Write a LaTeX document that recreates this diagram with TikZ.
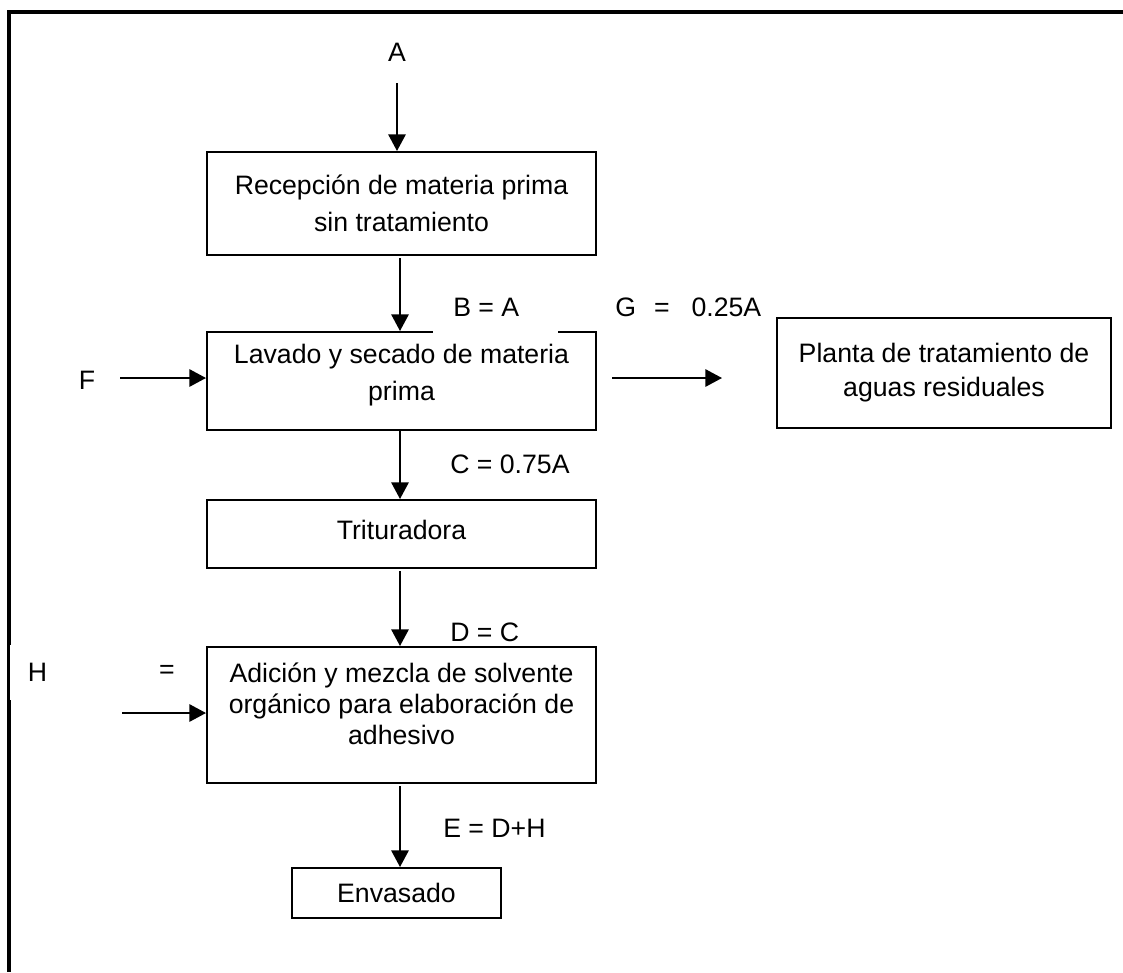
\documentclass[tikz,border=0pt]{standalone}
\usepackage{fontspec}
\setmainfont{Liberation Sans}
\usetikzlibrary{arrows.meta}
\begin{document}
\begin{tikzpicture}[x=0.75pt,y=-0.75pt,
  every node/.style={font=\fontsize{20}{24}\selectfont},
  stepbox/.style={draw,line width=1.5pt,inner sep=0pt},
  boxtext/.style={align=center,inner sep=0pt},
  lbl/.style={inner sep=0pt},
  flow/.style={line width=1.5pt,-{Triangle[length=12.5pt,width=13pt]}},
  frame/.style={line width=3pt}
]
\useasboundingbox (0,0) rectangle (1123,972);

% page frame: top and left rules
\draw[frame] (7,12) -- (1123,12);
\draw[frame] (9,10.5) -- (9,972);

% process boxes
\node[stepbox,minimum width=291.75pt,minimum height=77.25pt] (b1) at (401.5,203.5) {};
\node[stepbox,minimum width=291.75pt,minimum height=73.5pt] (b2) at (401.5,381) {};
\node[stepbox,minimum width=250.5pt,minimum height=82.5pt] (b3) at (944,373) {};
\node[stepbox,minimum width=291.75pt,minimum height=51pt] (b4) at (401.5,534) {};
\node[stepbox,minimum width=291.75pt,minimum height=102pt] (b5) at (401.5,715) {};
\node[stepbox,minimum width=156.75pt,minimum height=37.5pt] (b6) at (396.5,893) {};

% box texts
\node[boxtext,font=\fontsize{20}{27.75}\selectfont] (t1) at (401.5,203.5) {Recepción de materia prima\\sin tratamiento};
\node[boxtext,font=\fontsize{20}{27.75}\selectfont] (t2) at (401.5,375.5) {Lavado y secado de materia\\prima};
\node[boxtext,font=\fontsize{20}{25.5}\selectfont] (t3) at (944,373) {Planta de tratamiento de\\aguas residuales};
\node[boxtext] (t4) at (401.5,530) {Trituradora};
\node[boxtext,font=\fontsize{20}{23.25}\selectfont] (t5) at (401.5,704) {Adición y mezcla de solvente\\orgánico para elaboración de\\adhesivo};
\node[boxtext] (t6) at (396.5,893) {Envasado};

% stream labels
\node[lbl] (la) at (397,52) {A};
\node[lbl,fill=white,anchor=west,minimum height=42pt] (lb) at (433,307) {\kern15pt B = A\kern29pt\null};
\node[lbl,anchor=west] (lg) at (615,307) {G\hspace{13.5pt}=\hspace{16.5pt}0.25A};
\node[lbl] (lf) at (87,380) {F};
\node[lbl,anchor=west] (lc) at (450,464) {C = 0.75A};
\node[lbl,anchor=west] (ld) at (450,632) {D = C};
\node[lbl,fill=white,minimum width=41.25pt,minimum height=41.25pt] (lh) at (37.5,672) {H};
\node[lbl] (leq) at (167,672) {=};
\node[lbl,anchor=west] (le) at (443,828) {E = D+H};

% free ends of the streams
\coordinate (a0) at (397,83);
\coordinate (f0) at (120,378);
\coordinate (h0) at (122,713);
\coordinate (g0) at (612,378);
\coordinate (g1) at (722,378);

% stream arrows
\draw[flow] (a0) -- (a0 |- b1.north);
\draw[flow] (400,258) -- (400,0 |- b2.north);
\draw[flow] (f0) -- (f0 -| b2.west);
\draw[flow] (g0) -- (g1);
\draw[flow] (400,0 |- b2.south) -- (400,0 |- b4.north);
\draw[flow] (400,0 |- b4.south) ++(0,2) -- (400,0 |- b5.north);
\draw[flow] (h0) -- (h0 -| b5.west);
\draw[flow] (400,0 |- b5.south) ++(0,2) -- (400,0 |- b6.north);
\end{tikzpicture}
\end{document}
